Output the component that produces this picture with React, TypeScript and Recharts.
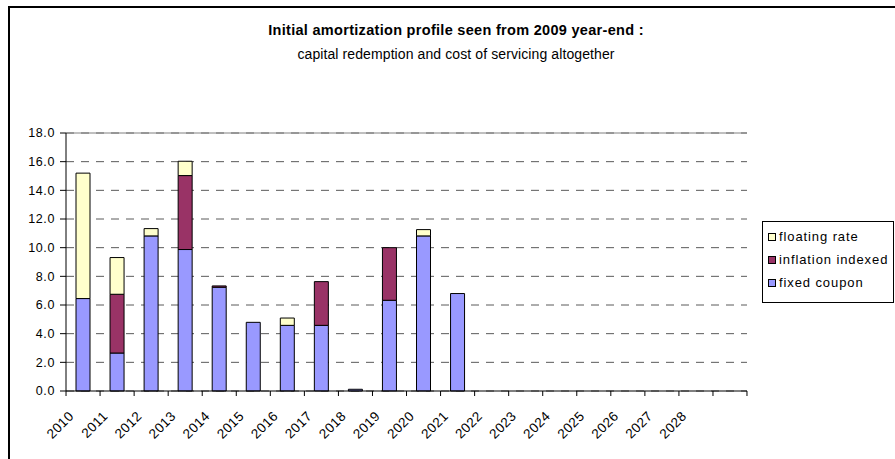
import React from 'react';
import { BarChart, Bar, XAxis, YAxis, CartesianGrid, ReferenceLine } from 'recharts';

// categories (last slot is an unlabeled year)
const years = [
    '2010', '2011', '2012', '2013', '2014', '2015', '2016', '2017', '2018', '2019',
    '2020', '2021', '2022', '2023', '2024', '2025', '2026', '2027', '2028', '',
];

// series values
const fixedCoupon = [6.45, 2.65, 10.82, 9.87, 7.24, 4.79, 4.58, 4.58, 0.12, 6.33, 10.82, 6.8, 0, 0, 0, 0, 0, 0, 0, 0];
const inflationIndexed = [0, 4.1, 0, 5.16, 0.09, 0, 0, 3.05, 0, 3.67, 0, 0, 0, 0, 0, 0, 0, 0, 0, 0];
const floatingRate = [8.75, 2.56, 0.51, 1.0, 0, 0, 0.51, 0, 0, 0, 0.44, 0, 0, 0, 0, 0, 0, 0, 0, 0];

const yTicks = [0, 2, 4, 6, 8, 10, 12, 14, 16, 18];

const FONT = '"Liberation Sans", Arial, sans-serif';

const COLORS = {
    fixed: '#9999FF',
    inflation: '#993366',
    floating: '#FFFFCC',
};

const legendItems = [
    { label: 'floating rate', color: COLORS.floating },
    { label: 'inflation indexed', color: COLORS.inflation },
    { label: 'fixed coupon', color: COLORS.fixed },
];

const chartData = years.map((year, i) => ({
    year,
    fixed: fixedCoupon[i],
    inflation: inflationIndexed[i],
    floating: floatingRate[i],
}));

const BAND = 34;

// tick marks sit on category boundaries, labels rotated like Excel
const YearTick = (props: any) => {
    const { x, y, payload, index } = props;
    const half = BAND / 2;
    const isLast = index === years.length - 1;
    const ax = x - 8.5;
    const ay = y + 26;
    return (
        <g>
            <line x1={x - half} x2={x - half} y1={y} y2={y + 5} stroke="#000" />
            {isLast && <line x1={x + half} x2={x + half} y1={y} y2={y + 5} stroke="#000" />}
            {payload.value && (
                <text
                    x={ax}
                    y={ay}
                    transform={`rotate(-45, ${ax}, ${ay})`}
                    textAnchor="end"
                    fontSize={13.5}
                    fontFamily={FONT}
                    letterSpacing={0.4}
                    fill="#000"
                >
                    {payload.value}
                </text>
            )}
        </g>
    );
};

export default function App() {
    return (
        <div style={{ position: 'absolute', left: 0, top: 0, width: 895, height: 459, overflow: 'hidden', background: '#fff', fontFamily: FONT }}>
            <div style={{ position: 'absolute', left: 8, top: 6, width: 920, height: 480, border: '2px solid #000' }} />

            <div style={{ position: 'absolute', left: 106, width: 700, top: 22, textAlign: 'center', fontSize: 14.5, fontWeight: 'bold', color: '#000', letterSpacing: 0.3 }}>
                Initial amortization profile seen from 2009 year-end :
            </div>
            <div style={{ position: 'absolute', left: 106, width: 700, top: 46, textAlign: 'center', fontSize: 14, color: '#000', letterSpacing: 0.1 }}>
                capital redemption and cost of servicing altogether
            </div>

            <BarChart
                width={895}
                height={459}
                data={chartData}
                margin={{ top: 133, right: 148, bottom: 8, left: 7 }}
                barSize={14}
                style={{ position: 'absolute', left: 0, top: 0 }}
            >
                <CartesianGrid vertical={false} stroke="#5a5a5a" strokeDasharray="8 7" />
                <ReferenceLine y={18} stroke="#808080" />
                <XAxis
                    dataKey="year"
                    interval={0}
                    height={60}
                    tickSize={0}
                    tickMargin={0}
                    tickLine={false}
                    axisLine={{ stroke: '#000' }}
                    tick={<YearTick />}
                />
                <YAxis
                    domain={[0, 18]}
                    ticks={yTicks}
                    width={59}
                    tickSize={6}
                    tickMargin={5}
                    tickFormatter={(v: number) => v.toFixed(1)}
                    axisLine={{ stroke: '#000' }}
                    tickLine={{ stroke: '#000' }}
                    tick={{ fill: '#000', fontSize: 12.5, fontFamily: FONT, letterSpacing: 0.6 }}
                />
                <YAxis
                    yAxisId="frame"
                    orientation="right"
                    domain={[0, 18]}
                    width={0}
                    tick={false}
                    tickLine={false}
                    axisLine={{ stroke: '#808080' }}
                />
                <Bar dataKey="fixed" name="fixed coupon" stackId="a" fill={COLORS.fixed} stroke="#000" strokeWidth={1} isAnimationActive={false} />
                <Bar dataKey="inflation" name="inflation indexed" stackId="a" fill={COLORS.inflation} stroke="#000" strokeWidth={1} isAnimationActive={false} />
                <Bar dataKey="floating" name="floating rate" stackId="a" fill={COLORS.floating} stroke="#000" strokeWidth={1} isAnimationActive={false} />
            </BarChart>

            {/* legend box */}
            <div style={{ position: 'absolute', left: 762, top: 221, width: 130, height: 80, border: '1px solid #000', background: '#fff' }}>
                {legendItems.map((item, i) => (
                    <div key={item.label} style={{ position: 'absolute', left: 5, top: 6 + i * 23, height: 17, display: 'flex', alignItems: 'center', fontSize: 13, letterSpacing: 0.9, color: '#000', whiteSpace: 'nowrap' }}>
                        <div style={{ width: 6, height: 6, border: '1px solid #000', background: item.color, marginRight: 3 }} />
                        {item.label}
                    </div>
                ))}
            </div>
        </div>
    );
}
